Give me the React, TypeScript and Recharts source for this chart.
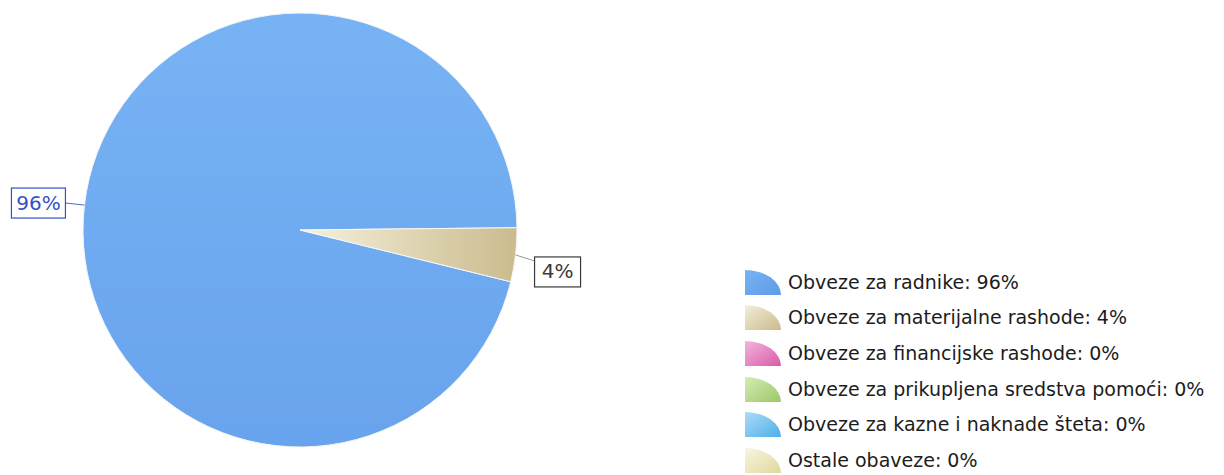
import { PieChart, Pie, Cell, Legend } from "recharts";

const categories = [
  "Obveze za radnike",
  "Obveze za materijalne rashode",
  "Obveze za financijske rashode",
  "Obveze za prikupljena sredstva pomoći",
  "Obveze za kazne i naknade šteta",
  "Ostale obaveze",
];
const shares = [96, 4, 0, 0, 0, 0];
const sliceColors = ["#68a3ed", "#e2d7b2", "#e37cc0", "#b7d98a", "#7cc3f0", "#efeac0"];
const gradTop = ["#77b3f4", "#f4efd9", "#f3b6dd", "#d6ecb4", "#acdcf8", "#f8f5dc"];
const gradBottom = ["#5f9be8", "#c9b98c", "#d85aaa", "#9cc868", "#4eaee8", "#e0d9a0"];
const labelColors = ["#3551c6", "#3a3a3a", "#3a3a3a", "#3a3a3a", "#3a3a3a", "#3a3a3a"];

const data = categories.map((name, i) => ({ name, value: shares[i] }));

const RADIAN = Math.PI / 180;

const SliceLabel = (props: any) => {
  const { cx, cy, midAngle, outerRadius, value, index } = props;
  if (!value) return null;
  const cos = Math.cos(-midAngle * RADIAN);
  const sin = Math.sin(-midAngle * RADIAN);
  const ex = cx + outerRadius * cos;
  const ey = cy + outerRadius * sin;
  const right = cos >= 0;
  const lx = ex + (right ? 19 : -19);
  const ly = ey + (right ? 6 : -2);
  const text = `${value}%`;
  const w = text.length > 2 ? 54 : 46;
  const h = 30;
  const bx = right ? lx : lx - w;
  const by = right ? ly - 4 : ly - h / 2;
  const color = labelColors[index];
  return (
    <g>
      <line x1={ex} y1={ey} x2={lx} y2={ly} stroke={right ? "#9a9a9a" : "#4a6bd0"} strokeWidth={1} />
      <rect x={bx} y={by} width={w} height={h} fill="#fff" stroke={color} strokeWidth={1.2} />
      <text
        x={bx + w / 2}
        y={by + h / 2 + 1}
        textAnchor="middle"
        dominantBaseline="middle"
        fill={color}
        fontSize={20}
        fontFamily="DejaVu Sans"
      >
        {text}
      </text>
    </g>
  );
};

const LegendList = () => (
  <div style={{ fontFamily: "DejaVu Sans", fontSize: 19, color: "#1c1c1c" }}>
    {categories.map((name, i) => (
      <div key={name} style={{ display: "flex", alignItems: "center", height: 35.6 }}>
        <svg width={44} height={30}>
          <defs>
            <linearGradient id={`lg${i}`} x1="0" y1="0" x2="1" y2="1">
              <stop offset="0%" stopColor={gradTop[i]} />
              <stop offset="100%" stopColor={gradBottom[i]} />
            </linearGradient>
          </defs>
          <path d="M1,28 L1,3 A36,25 0 0 1 37,28 Z" fill={`url(#lg${i})`} />
        </svg>
        <span>{`${name}: ${shares[i]}%`}</span>
      </div>
    ))}
  </div>
);

export default function App() {
  return (
    <div style={{ position: "absolute", left: 0, top: 0, background: "#fff" }}>
      <PieChart width={1224} height={475} margin={{ top: 0, right: 0, bottom: 0, left: 0 }}>
        <defs>
          {categories.map((_, i) => (
            <linearGradient key={i} id={`sg${i}`} x1="0" y1="0" x2={i === 1 ? "1" : "0"} y2={i === 1 ? "0" : "1"}>
              <stop offset="0%" stopColor={i === 1 ? "#f5f1dc" : gradTop[i]} />
              <stop offset="100%" stopColor={i === 1 ? "#cbbb8e" : sliceColors[i]} />
            </linearGradient>
          ))}
        </defs>
        <Pie
          data={data}
          dataKey="value"
          nameKey="name"
          cx={300}
          cy={230}
          outerRadius={217}
          startAngle={0.6}
          endAngle={360.6}
          stroke="#f6f6f6"
          strokeWidth={1}
          label={SliceLabel}
          labelLine={false}
          isAnimationActive={false}
        >
          {data.map((_, i) => (
            <Cell key={i} fill={`url(#sg${i})`} />
          ))}
        </Pie>
        <Legend
          layout="vertical"
          content={<LegendList />}
          wrapperStyle={{ position: "absolute", left: 744, top: 264, width: 480 }}
        />
      </PieChart>
    </div>
  );
}
